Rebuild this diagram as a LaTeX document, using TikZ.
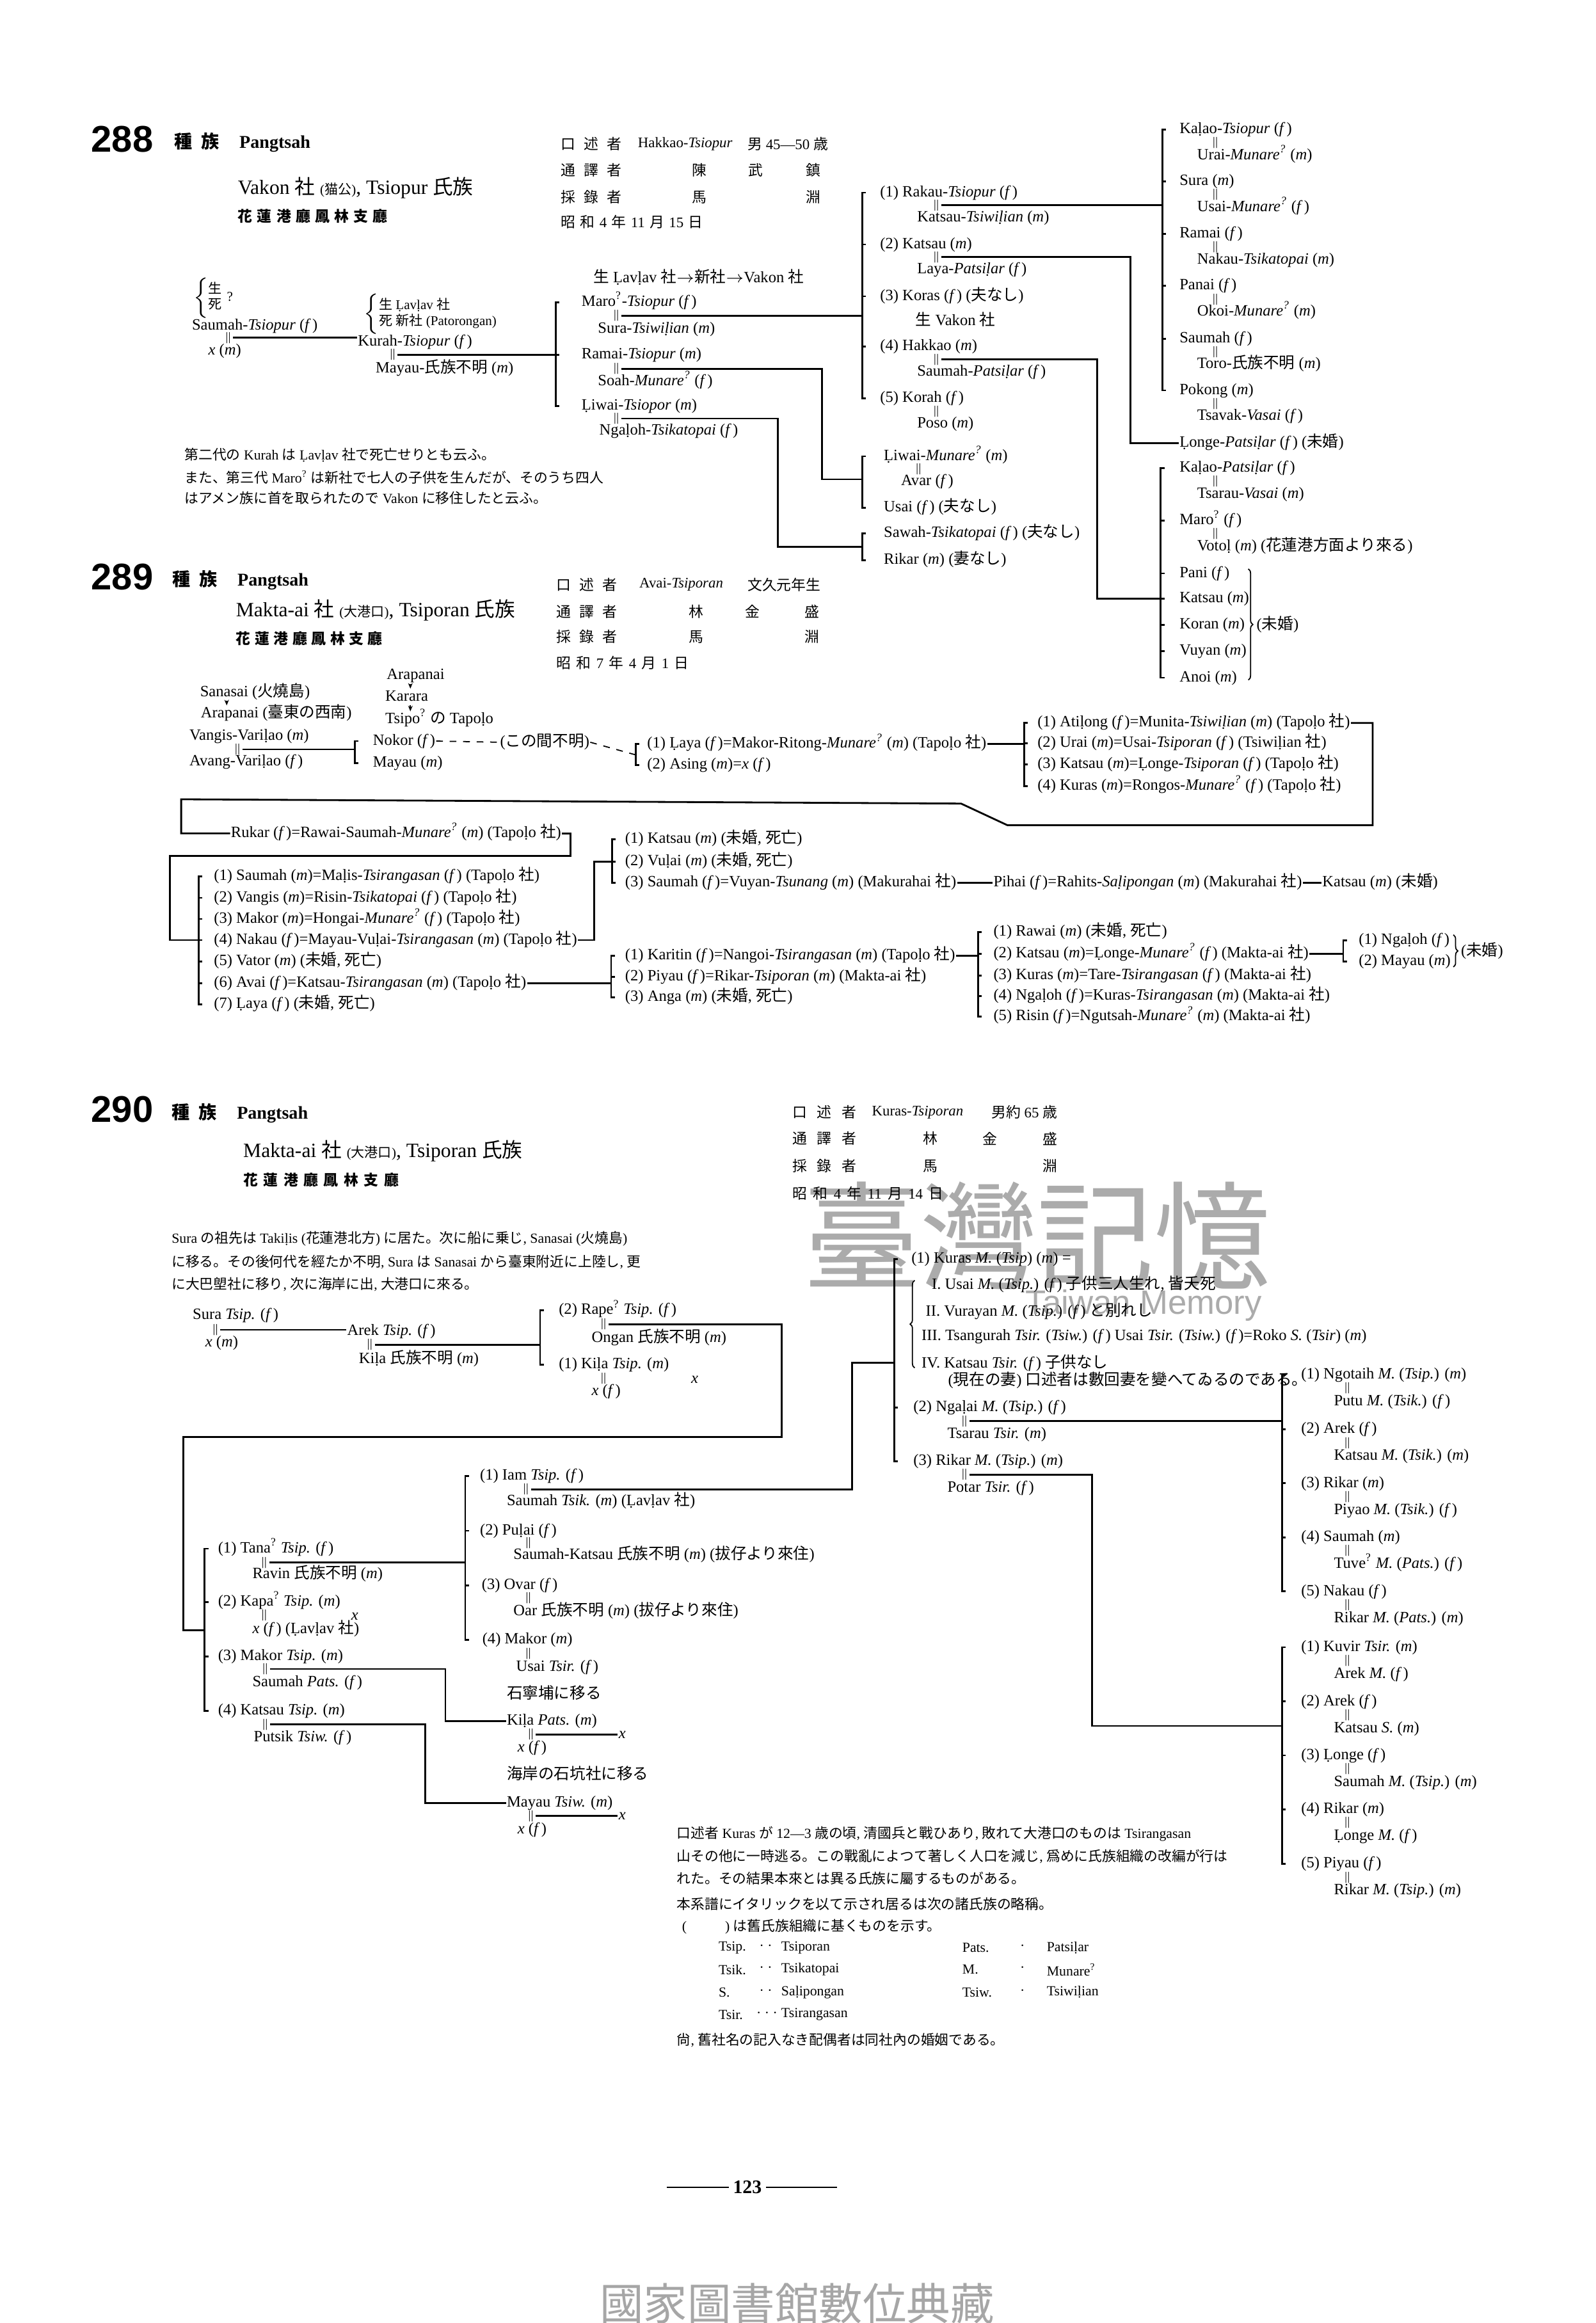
\documentclass[tikz,border=0pt]{standalone}
\usepackage{fontspec}
\setmainfont{Liberation Serif}
\setsansfont{Liberation Sans}
\newfontfamily\cjkfont{Noto Sans CJK JP}
\usetikzlibrary{arrows.meta,calc,decorations.pathreplacing}

%% kanji and kana switch to the CJK family by themselves
\XeTeXinterchartokenstate=1
\newXeTeXintercharclass\cjkclass
\newcount\cjkcode
\newcommand\setcjkrange[2]{%
  \cjkcode=#1\relax
  \loop
    \XeTeXcharclass\cjkcode=\cjkclass
  \ifnum\cjkcode<#2\relax
    \advance\cjkcode by 1
  \repeat}
\setcjkrange{"3000}{"30FF}
\setcjkrange{"4E00}{"9FFF}
\setcjkrange{"FF00}{"FFEF}
\XeTeXinterchartoks 0 \cjkclass = {\cjkfont}
\XeTeXinterchartoks 4095 \cjkclass = {\cjkfont}
\XeTeXinterchartoks \cjkclass 0 = {\rmfamily}
\XeTeXinterchartoks \cjkclass 4095 = {\rmfamily}

\newcommand\Fem{(\textit{f}\kern0.6pt)}
\newcommand\Mal{(\textit{m})}
\newcommand\gs{\textsuperscript{?}}
\newcommand\lh{l\char"0323\relax}
\newcommand\Lh{L\char"0323\relax}
%% bracket: x, top, bottom, inner ticks
\newcommand\brk[4]{%
  \draw (#1+2.5,#2) -- (#1,#2) -- (#1,#3) -- (#1+2.5,#3);
  \foreach \tk in {#4} \draw (#1,\tk) -- ++(2.5,0);}

\tikzset{
  nm/.style={anchor=west, inner sep=0pt, text height=5pt, text depth=1.5pt, font=\fontsize{7}{8}\selectfont},
  nb/.style={anchor=west, inner sep=0pt, font=\fontsize{6}{6.8}\selectfont},
  mk/.style={inner sep=0pt, font=\fontsize{5}{5}\selectfont},
  nt/.style={anchor=west, inner sep=0pt, font=\fontsize{6.2}{7}\selectfont},
  inf/.style={anchor=west, inner sep=0pt, font=\fontsize{6.5}{7}\selectfont},
  num/.style={anchor=west, inner sep=0pt, font=\fontsize{16.5}{17}\selectfont\sffamily\bfseries},
  hd/.style={anchor=west, inner sep=0pt, font=\fontsize{8}{9}\selectfont\bfseries},
  ttl/.style={anchor=west, inner sep=0pt, font=\fontsize{9}{10}\selectfont},
  sb/.style={anchor=west, inner sep=0pt, font=\fontsize{6.5}{7}\selectfont\bfseries},
  arr/.style={-{Stealth[length=2.5pt,width=2pt]}, line width=0.5pt},
  dsh/.style={dashed, line width=0.5pt},
  brc/.style={decorate, decoration={brace, amplitude=2pt}, line width=0.5pt},
}

\begin{document}
\begin{tikzpicture}[x=0.2315mm, y=-0.2315mm, line width=0.8pt]
  \useasboundingbox (0,0) rectangle (1077,1568);

  %% watermark, behind the text
  \node[font=\fontsize{52}{52}\selectfont, text=black!33, inner sep=0pt] (wm1) at (700,834) {臺灣記憶};
  \node[font=\fontsize{15}{15}\selectfont\sffamily, text=black!33, inner sep=0pt] (wm2) at (772,881) {Taiwan Memory};

  %% ================= 288 =================
  \node[num] (n288) at (61,94) {288};
  \node[hd] (h288) at (117,96) {種\hspace{4pt}族\hspace{9pt}Pangtsah};
  \node[ttl] (t288) at (160,127) {Vakon 社 {\fontsize{6}{6}\selectfont (猫公)}, Tsiopur 氏族};
  \node[sb] (s288) at (160,146) {\makebox[23.4mm][s]{花 蓮 港 廳 鳳 林 支 廳}};

  \node[inf] (a288) at (378,97) {\makebox[9.5mm][s]{口 述 者}};
  \node[inf] (a288n) at (430,97) {Hakkao-\textit{Tsiopur}};
  \node[inf] (a288a) at (504,97) {男 45—50 歳};
  \node[inf] (b288) at (378,115) {\makebox[9.5mm][s]{通 譯 者}};
  \node[inf,anchor=center] (b288x) at (472,115) {陳};
  \node[inf,anchor=center] (b288y) at (510,115) {武};
  \node[inf,anchor=center] (b288z) at (549,115) {鎮};
  \node[inf] (c288) at (378,133) {\makebox[9.5mm][s]{採 錄 者}};
  \node[inf,anchor=center] (c288x) at (472,133) {馬};
  \node[inf,anchor=center] (c288z) at (549,133) {淵};
  \node[inf] (d288) at (378,150) {\makebox[22.2mm][s]{昭 和 4 年 11 月 15 日}};

  \node[nb] (bd1) at (130,201) {$\left\{\begin{tabular}{@{}l@{}}生\\死\end{tabular}\right.$\,?};
  \node[nb] (bd2) at (245,212) {$\left\{\begin{tabular}{@{}l@{}}生 \Lh av\lh av 社\\死 新社 (Patorongan)\end{tabular}\right.$};
  \node[nm] (sm1) at (129,220) {Saumah-\textit{Tsiopur} \Fem};
  \node[mk] (q1) at (154,228) {$\|$};
  \node[nm] (x1) at (140,237) {\textit{x} \Mal};
  \node[nm] (ku) at (241,231) {Kurah-\textit{Tsiopur} \Fem};
  \node[mk] (q2) at (265,239.5) {$\|$};
  \node[nm] (my1) at (253,249) {Mayau-氏族不明 \Mal};
  \draw (q1.east) -- (ku.west |- q1.east);
  \coordinate (br1) at (375,239.5);
  \draw (q2.east) -- (br1);
  \brk{375}{204}{274}{239.5}

  \node[nm] (lv) at (400,188) {生 \Lh av\lh av 社$\to$新社$\to$Vakon 社};
  \node[nm] (mr) at (392,204) {Maro\gs-\textit{Tsiopur} \Fem};
  \node[mk] (q3) at (416,213) {$\|$};
  \node[nm] (sw) at (403,222) {Sura-\textit{Tsiwi\lh ian} \Mal};
  \node[nm] (rm) at (392,239.5) {Ramai-\textit{Tsiopur} \Mal};
  \node[mk] (q4) at (416,249) {$\|$};
  \node[nm] (so) at (403,257.5) {Soah-\textit{Munare\gs} \Fem};
  \node[nm] (lw) at (392,274) {\Lh iwai-\textit{Tsiopor} \Mal};
  \node[mk] (q5) at (416,282.5) {$\|$};
  \node[nm] (ng) at (404,291) {Nga\lh oh-\textit{Tsikatopai} \Fem};
  \coordinate (br2) at (582,213);
  \coordinate (br5) at (582,323.5);
  \coordinate (br6) at (582,369.2);
  \draw (q3.east) -- (br2);
  \draw (q4.east) -| (555,323.5) -- (br5);
  \draw (q5.east) -| (525,369.2) -- (br6);

  \brk{582}{130}{269}{165,200,234}
  \foreach \yy/\pa/\pb [count=\idx] in {
    130/{(1) Rakau-\textit{Tsiopur} \Fem}/{Katsau-\textit{Tsiwi\lh ian} \Mal},
    165/{(2) Katsau \Mal}/{Laya-\textit{Patsi\lh ar} \Fem},
    234/{(4) Hakkao \Mal}/{Saumah-\textit{Patsi\lh ar} \Fem},
    269/{(5) Korah \Fem}/{Poso \Mal}}{
    \node[nm] (d\idx) at (593.5,\yy) {\pa};
    \node[mk] (dq\idx) at (632,\yy+8.6) {$\|$};
    \node[nm] (ds\idx) at (618.5,\yy+17) {\pb};
  }
  \node[nm] (ko) at (593.5,200) {(3) Koras \Fem\ (夫なし)};
  \node[nm] (vk) at (617.5,217) {生 Vakon 社};

  \brk{784.5}{87.4}{263.5}{122.4,157.9,193,228.6}
  \foreach \yy/\pa/\pb [count=\idx] in {
    87.4/{Ka\lh ao-\textit{Tsiopur} \Fem}/{Urai-\textit{Munare\gs} \Mal},
    122.4/{Sura \Mal}/{Usai-\textit{Munare\gs} \Fem},
    157.9/{Ramai \Fem}/{Nakau-\textit{Tsikatopai} \Mal},
    193/{Panai \Fem}/{Okoi-\textit{Munare\gs} \Mal},
    228.6/{Saumah \Fem}/{Toro-氏族不明 \Mal},
    263.5/{Pokong \Mal}/{Tsavak-\textit{Vasai} \Fem}}{
    \node[nm] (c\idx) at (795.6,\yy) {\pa};
    \node[mk] (cq\idx) at (820.3,\yy+9) {$\|$};
    \node[nm] (cs\idx) at (807.5,\yy+17.5) {\pb};
  }
  \node[nm] (lg) at (795.6,299) {\Lh onge-\textit{Patsi\lh ar} \Fem\ (未婚)};
  \coordinate (br3) at (784.5,138.6);
  \coordinate (br4) at (783.5,404);
  \draw (dq1.east) -- (br3);
  \draw (dq2.east) -| (763,299) -- (lg.west);
  \draw (dq3.east) -| (740.7,404) -- (br4);

  \brk{783.5}{316}{457.4}{351.5,387,404,421.7,439.6}
  \node[nm] (kp1) at (795.6,316) {Ka\lh ao-\textit{Patsi\lh ar} \Fem};
  \node[mk] (kq1) at (820.3,325) {$\|$};
  \node[nm] (ts1) at (807.5,333.7) {Tsarau-\textit{Vasai} \Mal};
  \node[nm] (mo1) at (795.6,351.5) {Maro\gs\ \Fem};
  \node[mk] (mq1) at (820.3,360.5) {$\|$};
  \node[nm] (vt1) at (807.5,369.2) {Voto\lh\ \Mal\ (花蓮港方面より來る)};
  \foreach \yy/\pa [count=\idx] in {387/{Pani \Fem}, 404/{Katsau \Mal}, 421.7/{Koran \Mal}, 439.6/{Vuyan \Mal}, 457.4/{Anoi \Mal}}
    \node[nm] (un\idx) at (795.6,\yy) {\pa};
  \draw[brc] (842.6,384) -- (842.6,459);
  \node[nm] (un6) at (847.6,422) {(未婚)};

  \brk{582}{308}{342.6}{308}
  \node[nm] (lm) at (596,308) {\Lh iwai-\textit{Munare\gs} \Mal};
  \node[mk] (lq) at (620,316.5) {$\|$};
  \node[nm] (avr) at (607.6,325) {Avar \Fem};
  \node[nm] (usi) at (596,342.6) {Usai \Fem\ (夫なし)};
  \brk{582}{360}{378}{360}
  \node[nm] (swh) at (596,360) {Sawah-\textit{Tsikatopai} \Fem\ (夫なし)};
  \node[nm] (rkr) at (596,378) {Rikar \Mal\ (妻なし)};

  \node[nt] (r1) at (124,307) {第二代の Kurah は \Lh av\lh av 社で死亡せりとも云ふ。};
  \node[nt] (r2) at (124,322) {また、第三代 Maro\gs\ は新社で七人の子供を生んだが、そのうち四人};
  \node[nt] (r3) at (124,336) {はアメン族に首を取られたので Vakon に移住したと云ふ。};

  %% ================= 289 =================
  \node[num] (n289) at (61,389.5) {289};
  \node[hd] (h289) at (115.7,391.6) {種\hspace{4pt}族\hspace{9pt}Pangtsah};
  \node[ttl] (t289) at (158.7,411.7) {Makta-ai 社 {\fontsize{6}{6}\selectfont (大港口)}, Tsiporan 氏族};
  \node[sb] (s289) at (158.7,430.8) {\makebox[22.9mm][s]{花 蓮 港 廳 鳳 林 支 廳}};

  \node[inf] (a289) at (375,394.6) {\makebox[9.5mm][s]{口 述 者}};
  \node[inf] (a289n) at (431,394.6) {Avai-\textit{Tsiporan}};
  \node[inf] (a289a) at (504,394.6) {文久元年生};
  \node[inf] (b289) at (375,412.7) {\makebox[9.5mm][s]{通 譯 者}};
  \node[inf,anchor=center] (b289x) at (470,412.7) {林};
  \node[inf,anchor=center] (b289y) at (508,412.7) {金};
  \node[inf,anchor=center] (b289z) at (548,412.7) {盛};
  \node[inf] (c289) at (375,429.8) {\makebox[9.5mm][s]{採 錄 者}};
  \node[inf,anchor=center] (c289x) at (470,429.8) {馬};
  \node[inf,anchor=center] (c289z) at (548,429.8) {淵};
  \node[inf] (d289) at (375,447.5) {\makebox[20.7mm][s]{昭 和 7 年 4 月 1 日}};

  \node[nm] (ap1) at (260.5,456) {Arapanai};
  \node[nm] (kr) at (259.5,470.4) {Karara};
  \node[nm] (tp) at (259.5,485.7) {Tsipo\gs\ の Tapo\lh o};
  \draw[arr] (277,0 |- ap1.south) -- (277,0 |- kr.north);
  \draw[arr] (277,0 |- kr.south) -- (277,0 |- tp.north);
  \node[nm] (sn) at (134.5,467.4) {Sanasai (火燒島)};
  \node[nm] (ap2) at (135,481.7) {Arapanai (臺東の西南)};
  \draw[arr] (153,0 |- sn.south) -- (153,0 |- ap2.north);

  \node[nm] (vg) at (127.3,497) {Vangis-Vari\lh ao \Mal};
  \node[mk] (qv) at (160.3,505.8) {$\|$};
  \node[nm] (avg) at (127.3,514.3) {Avang-Vari\lh ao \Fem};
  \coordinate (bv) at (239.6,505.8);
  \draw (qv.east) -- (bv);
  \brk{239.6}{500.2}{515}{500.2}
  \node[nm] (nk) at (251.2,500.2) {Nokor \Fem};
  \node[nm] (my2) at (251.2,515) {Mayau \Mal};
  \node[nm] (ck) at (337,501) {(この間不明)};
  \coordinate (bl) at (429,509.5);
  \draw[dsh] (nk.east) -- (ck.west);
  \draw[dsh] (ck.east) -- (bl);
  \brk{429}{502.2}{516.3}{502.2}
  \node[nm] (ly) at (436.3,502.2) {(1) \Lh aya \Fem=Makor-Ritong-\textit{Munare\gs} \Mal\ (Tapo\lh o 社)};
  \node[nm] (as) at (436.3,516.3) {(2) Asing \Mal=\textit{x} \Fem};
  \coordinate (ba) at (691.4,502.2);
  \draw (ly.east) -- (ba);
  \brk{691.4}{488}{530.5}{501.6,516}
  \foreach \yy/\pa [count=\idx] in {
    488/{(1) Ati\lh ong \Fem=Munita-\textit{Tsiwi\lh ian} \Mal\ (Tapo\lh o 社)},
    501.6/{(2) Urai \Mal=Usai-\textit{Tsiporan} \Fem\ (Tsiwi\lh ian 社)},
    516/{(3) Katsau \Mal=\Lh onge-\textit{Tsiporan} \Fem\ (Tapo\lh o 社)},
    530.5/{(4) Kuras \Mal=Rongos-\textit{Munare\gs} \Fem\ (Tapo\lh o 社)}}
    \node[nm] (e\idx) at (699.7,\yy) {\pa};

  \node[nm] (rk) at (155.3,562.5) {Rukar \Fem=Rawai-Saumah-\textit{Munare\gs} \Mal\ (Tapo\lh o 社)};
  \draw (e1.east) -- (926.5,488) -- (926.5,557) -- (680,557) -- (648.7,542.4) -- (122.3,539.5) |- (rk.west);
  \coordinate (bh) at (134,634.5);
  \draw (rk.east) -- (385,562.5) -- (385,577.6) -- (114.7,577.6) |- (bh);

  \brk{134}{591.7}{677.8}{606,620.3,634.5,649,663.7}
  \foreach \yy/\pa [count=\idx] in {
    591.7/{(1) Saumah \Mal=Ma\lh is-\textit{Tsirangasan} \Fem\ (Tapo\lh o 社)},
    606/{(2) Vangis \Mal=Risin-\textit{Tsikatopai} \Fem\ (Tapo\lh o 社)},
    620.3/{(3) Makor \Mal=Hongai-\textit{Munare\gs} \Fem\ (Tapo\lh o 社)},
    634.5/{(4) Nakau \Fem=Mayau-Vu\lh ai-\textit{Tsirangasan} \Mal\ (Tapo\lh o 社)},
    649/{(5) Vator \Mal\ (未婚, 死亡)},
    663.7/{(6) Avai \Fem=Katsau-\textit{Tsirangasan} \Mal\ (Tapo\lh o 社)},
    677.8/{(7) \Lh aya \Fem\ (未婚, 死亡)}}
    \node[nm] (h\idx) at (143.8,\yy) {\pa};

  \brk{413}{566.6}{595.7}{581.6}
  \node[nm] (v1) at (421.4,566.6) {(1) Katsau \Mal\ (未婚, 死亡)};
  \node[nm] (v2) at (421.4,581.6) {(2) Vu\lh ai \Mal\ (未婚, 死亡)};
  \node[nm] (v3) at (421.4,595.7) {(3) Saumah \Fem=Vuyan-\textit{Tsunang} \Mal\ (Makurahai 社)};
  \coordinate (bvu) at (413,581.6);
  \draw (h4.east) -| (401,581.6) -- (bvu);
  \node[nm] (ph) at (670,595.7) {Pihai \Fem=Rahits-\textit{Sa\lh ipongan} \Mal\ (Makurahai 社)};
  \node[nm] (kt) at (892,595.7) {Katsau \Mal\ (未婚)};
  \draw (v3.east) -- (ph.west);
  \draw (ph.east) -- (kt.west);

  \brk{412.5}{645}{673.2}{659.5}
  \node[nm] (w1) at (421.4,645) {(1) Karitin \Fem=Nangoi-\textit{Tsirangasan} \Mal\ (Tapo\lh o 社)};
  \node[nm] (w2) at (421.4,659.5) {(2) Piyau \Fem=Rikar-\textit{Tsiporan} \Mal\ (Makta-ai 社)};
  \node[nm] (w3) at (421.4,673.2) {(3) Anga \Mal\ (未婚, 死亡)};
  \coordinate (bw) at (412.5,663.7);
  \draw (h6.east) -- (bw);

  \brk{660.2}{629}{686.3}{643.8,658.4,672.4}
  \coordinate (bk) at (660.2,645);
  \draw (w1.east) -- (bk);
  \foreach \yy/\pa [count=\idx] in {
    629/{(1) Rawai \Mal\ (未婚, 死亡)},
    643.8/{(2) Katsau \Mal=\Lh onge-\textit{Munare\gs} \Fem\ (Makta-ai 社)},
    658.4/{(3) Kuras \Mal=Tare-\textit{Tsirangasan} \Fem\ (Makta-ai 社)},
    672.4/{(4) Nga\lh oh \Fem=Kuras-\textit{Tsirangasan} \Mal\ (Makta-ai 社)},
    686.3/{(5) Risin \Fem=Ngutsah-\textit{Munare\gs} \Mal\ (Makta-ai 社)}}
    \node[nm] (u\idx) at (670,\yy) {\pa};
  \coordinate (bn) at (906.7,643.8);
  \draw (u2.east) -- (bn);
  \brk{906.7}{634.8}{649}{634.8}
  \node[nm] (z1) at (916.6,634.8) {(1) Nga\lh oh \Fem};
  \node[nm] (z2) at (916.6,649) {(2) Mayau \Mal};
  \draw[brc] (981,631) -- (981,652.7);
  \node[nm] (z3) at (985.6,642.6) {(未婚)};

  %% ================= 290 =================
  \node[num] (n290) at (61,749) {290};
  \node[hd] (h290) at (115.3,751.4) {種\hspace{4pt}族\hspace{9pt}Pangtsah};
  \node[ttl] (t290) at (163.6,777) {Makta-ai 社 {\fontsize{6}{6}\selectfont (大港口)}, Tsiporan 氏族};
  \node[sb] (s290) at (163.6,796.3) {\makebox[24.3mm][s]{花 蓮 港 廳 鳳 林 支 廳}};

  \node[inf] (a290) at (534.3,750.7) {\makebox[10mm][s]{口 述 者}};
  \node[inf] (a290n) at (588,750.7) {Kuras-\textit{Tsiporan}};
  \node[inf] (a290a) at (668.6,750.7) {男約 65 歳};
  \node[inf] (b290) at (534.3,768.5) {\makebox[10mm][s]{通 譯 者}};
  \node[inf,anchor=center] (b290x) at (628,768.5) {林};
  \node[inf,anchor=center] (b290y) at (668,768.5) {金};
  \node[inf,anchor=center] (b290z) at (709,768.5) {盛};
  \node[inf] (c290) at (534.3,787) {\makebox[10mm][s]{採 錄 者}};
  \node[inf,anchor=center] (c290x) at (628,787) {馬};
  \node[inf,anchor=center] (c290z) at (709,787) {淵};
  \node[inf] (d290) at (534.3,805.6) {\makebox[23.6mm][s]{昭 和 4 年 11 月 14 日}};

  \node[nt] (o1) at (115.3,836.2) {Sura の祖先は Taki\lh is (花蓮港北方) に居た。次に船に乗じ, Sanasai (火燒島)};
  \node[nt] (o2) at (115.3,852) {に移る。その後何代を經たか不明, Sura は Sanasai から臺東附近に上陸し, 更};
  \node[nt] (o3) at (115.3,867) {に大巴塱社に移り, 次に海岸に出, 大港口に來る。};

  \node[nm] (su) at (129.5,888) {Sura \textit{Tsip.} \Fem};
  \node[mk] (qs) at (145.4,897.6) {$\|$};
  \node[nm] (sx) at (138,906.5) {\textit{x} \Mal};
  \node[nm] (ar) at (233.8,898.4) {Arek \textit{Tsip.} \Fem};
  \node[mk] (qa) at (249.6,907.7) {$\|$};
  \node[nm] (kl) at (241.7,917.4) {Ki\lh a 氏族不明 \Mal};
  \draw (qs.east) -- (ar.west |- qs.east);
  \coordinate (bra) at (364.6,907.7);
  \draw (qa.east) -- (bra);
  \brk{364.6}{884.4}{921}{884.4}
  \node[nm] (rp) at (376.6,884.4) {(2) Rape\gs\ \textit{Tsip.} \Fem};
  \node[mk] (qr) at (407.4,893.8) {$\|$};
  \node[nm] (og) at (398.8,903.2) {Ongan 氏族不明 \Mal};
  \node[nm] (kt1) at (376.6,921) {(1) Ki\lh a \textit{Tsip.} \Mal};
  \node[mk] (qk1) at (407.4,930.4) {$\|$};
  \node[nm] (kx) at (398.8,939.4) {\textit{x} \Fem};
  \node[nm] (kx2) at (466,931) {\textit{x}};
  \coordinate (bt) at (138.1,1100.3);
  \draw (qr.east) -- (527.8,893.8) -- (527.8,969.8) -- (123.8,969.8) |- (bt);

  \brk{138.1}{1045.3}{1154.8}{1081.3,1118}
  \node[nm] (tn) at (146.6,1045.3) {(1) Tana\gs\ \textit{Tsip.} \Fem};
  \node[mk] (qt) at (178.3,1054.7) {$\|$};
  \node[nm] (rv) at (169.8,1062.8) {Ravin 氏族不明 \Mal};
  \node[nm] (kp2) at (146.6,1081.3) {(2) Kapa\gs\ \textit{Tsip.} \Mal};
  \node[mk] (qkp) at (178.3,1090.5) {$\|$};
  \node[nm] (kpx) at (236.5,1090.7) {\textit{x}};
  \node[nm] (kpf) at (169.8,1099.8) {\textit{x} \Fem\ (\Lh av\lh av 社)};
  \node[nm] (mk3) at (146.6,1118) {(3) Makor \textit{Tsip.} \Mal};
  \node[mk] (qm3) at (179,1126.5) {$\|$};
  \node[nm] (sp3) at (169.8,1135.8) {Saumah \textit{Pats.} \Fem};
  \node[nm] (ks4) at (146.6,1154.8) {(4) Katsau \textit{Tsip.} \Mal};
  \node[mk] (qk4) at (179,1164) {$\|$};
  \node[nm] (pt4) at (170.7,1173) {Putsik \textit{Tsiw.} \Fem};
  \coordinate (bi) at (314,1054.7);
  \draw (qt.east) -- (bi);

  \brk{314}{996.4}{1106.7}{1033.2,1070}
  \node[nm] (im) at (323.4,996.4) {(1) Iam \textit{Tsip.} \Fem};
  \node[mk] (qi) at (355,1005.3) {$\|$};
  \node[nm] (st) at (341.5,1013.7) {Saumah \textit{Tsik.} \Mal\ (\Lh av\lh av 社)};
  \node[nm] (pl) at (323.4,1033.2) {(2) Pu\lh ai \Fem};
  \node[mk] (qp) at (356.6,1041.4) {$\|$};
  \node[nm] (sk) at (346,1049.7) {Saumah-Katsau 氏族不明 \Mal\ (拔仔より來住)};
  \node[nm] (ov) at (324.6,1070) {(3) Ovar \Fem};
  \node[mk] (qo) at (356.6,1078.8) {$\|$};
  \node[nm] (oa) at (346,1087.7) {Oar 氏族不明 \Mal\ (拔仔より來住)};
  \node[nm] (mk4) at (325,1106.7) {(4) Makor \Mal};
  \node[mk] (qm4) at (356.6,1116) {$\|$};
  \node[nm] (us4) at (347.8,1125.2) {Usai \textit{Tsir.} \Fem};
  \node[nm] (mv1) at (341.5,1144) {石寧埔に移る};
  \node[nm] (kp) at (341.5,1161.7) {Ki\lh a \textit{Pats.} \Mal};
  \node[mk] (qkp2) at (358.3,1170.8) {$\|$};
  \node[nm] (xk) at (417,1170.8) {\textit{x}};
  \node[nm] (kpx2) at (348.8,1180) {\textit{x} \Fem};
  \node[nm] (mv2) at (341.5,1198.4) {海岸の石坑社に移る};
  \node[nm] (mt) at (341.5,1216.9) {Mayau \textit{Tsiw.} \Mal};
  \node[mk] (qmt) at (358.3,1225.8) {$\|$};
  \node[nm] (xm) at (417,1225.8) {\textit{x}};
  \node[nm] (mtx) at (348.8,1235) {\textit{x} \Fem};
  \draw (qm3.east) -| (300.6,1161.7) -- (kp.west);
  \draw (qk4.east) -| (287,1216.9) -- (mt.west);
  \draw (qkp2.east) -- (xk.west);
  \draw (qmt.east) -- (xm.west);
  \coordinate (bk1) at (603.6,919.7);
  \draw (qi.east) -| (575.3,919.7) -- (bk1);

  \brk{603.6}{850}{986.4}{950}
  \node[nm] (kr1) at (614.6,850) {(1) Kuras \textit{M.} (\textit{Tsip}) \Mal\ =};
  \draw[brc] (617.4,923.3) -- (617.4,864.2);
  \node[nm] (ro1) at (628.4,867.3) {I. Usai \textit{M.} (\textit{Tsip.}) \Fem\ 子供三人生れ, 皆夭死};
  \node[nm] (ro2) at (624.3,885.5) {II. Vurayan \textit{M.} (\textit{Tsip.}) \Fem\ と別れし};
  \node[nm] (ro3) at (621.5,902.1) {III. Tsangurah \textit{Tsir.} (\textit{Tsiw.}) \Fem\ Usai \textit{Tsir.} (\textit{Tsiw.}) \Fem=Roko \textit{S.} (\textit{Tsir}) \Mal};
  \node[nm] (ro4) at (621.5,920.5) {IV. Katsau \textit{Tsir.} \Fem\ 子供なし};
  \node[nm] (ro5) at (639.4,932.5) {(現在の妻) 口述者は數回妻を變へてゐるのである。};
  \node[nm] (ngl) at (616,950) {(2) Nga\lh ai \textit{M.} (\textit{Tsip.}) \Fem};
  \node[mk] (qng) at (651,959.3) {$\|$};
  \node[nm] (tsr) at (638.9,968.2) {Tsarau \textit{Tsir.} \Mal};
  \node[nm] (rk3) at (616,986.4) {(3) Rikar \textit{M.} (\textit{Tsip.}) \Mal};
  \node[mk] (qrk) at (651,995.4) {$\|$};
  \node[nm] (ptr) at (638.9,1004.5) {Potar \textit{Tsir.} \Fem};
  \coordinate (bg1) at (865.3,959.3);
  \coordinate (bg2) at (865.3,1165);
  \draw (qng.east) -- (bg1);
  \draw (qrk.east) -| (737.2,1165) -- (bg2);

  \brk{865.3}{927.9}{1074.2}{964.8,1001.2,1037.6}
  \brk{865.3}{1111.8}{1258.1}{1148.5,1184.8,1221.2}
  \foreach \yy/\pa/\pb [count=\idx] in {
    927.9/{(1) Ngotaih \textit{M.} (\textit{Tsip.}) \Mal}/{Putu \textit{M.} (\textit{Tsik.}) \Fem},
    964.8/{(2) Arek \Fem}/{Katsau \textit{M.} (\textit{Tsik.}) \Mal},
    1001.2/{(3) Rikar \Mal}/{Piyao \textit{M.} (\textit{Tsik.}) \Fem},
    1037.6/{(4) Saumah \Mal}/{Tuve\gs\ \textit{M.} (\textit{Pats.}) \Fem},
    1074.2/{(5) Nakau \Fem}/{Rikar \textit{M.} (\textit{Pats.}) \Mal},
    1111.8/{(1) Kuvir \textit{Tsir.} \Mal}/{Arek \textit{M.} \Fem},
    1148.5/{(2) Arek \Fem}/{Katsau \textit{S.} \Mal},
    1184.8/{(3) \Lh onge \Fem}/{Saumah \textit{M.} (\textit{Tsip.}) \Mal},
    1221.2/{(4) Rikar \Mal}/{\Lh onge \textit{M.} \Fem},
    1258.1/{(5) Piyau \Fem}/{Rikar \textit{M.} (\textit{Tsip.}) \Mal}}{
    \node[nm] (g\idx) at (877.7,\yy) {\pa};
    \node[mk] (gq\idx) at (909.4,\yy+9.1) {$\|$};
    \node[nm] (gs\idx) at (899.8,\yy+18.2) {\pb};
  }

  %% notes under 290
  \node[nt] (f1) at (456.3,1238) {口述者 Kuras が 12—3 歳の頃, 清國兵と戰ひあり, 敗れて大港口のものは Tsirangasan};
  \node[nt] (f2) at (456.3,1253) {山その他に一時逃る。この戰亂によつて著しく人口を減じ, 爲めに氏族組織の改編が行は};
  \node[nt] (f3) at (456.3,1268) {れた。その結果本來とは異る氏族に屬するものがある。};
  \node[nt] (f4) at (456.3,1285.3) {本系譜にイタリックを以て示され居るは次の諸氏族の略稱。};
  \node[nt] (f5) at (459.8,1300.3) {(\hspace{6mm}) は舊氏族組織に基くものを示す。};
  \foreach \yy/\ka/\na/\kb/\nb [count=\idx] in {
    1314.6/Tsip./Tsiporan/Pats./Patsi\lh ar,
    1329.4/Tsik./Tsikatopai/M./Munare\gs,
    1344.7/S./Sa\lh ipongan/Tsiw./Tsiwi\lh ian}{
    \node[nt] (ka\idx) at (484.5,\yy) {\ka};
    \node[nt] (kd\idx) at (512,\yy) {· ·};
    \node[nt] (kn\idx) at (526.8,\yy) {\na};
    \node[nt] (kb\idx) at (649,\yy) {\kb};
    \node[nt] (ke\idx) at (688,\yy) {·};
    \node[nt] (km\idx) at (706,\yy) {\nb};
  }
  \node[nt] (ka4) at (484.5,1359.8) {Tsir.};
  \node[nt] (kd4) at (510,1359.8) {· · ·};
  \node[nt] (kn4) at (526.8,1359.8) {Tsirangasan};
  \node[nt] (f6) at (456.3,1377) {尙, 舊社名の記入なき配偶者は同社內の婚姻である。};

  %% page foot
  \node[font=\fontsize{8.5}{9}\selectfont\bfseries, inner sep=0pt] (pg) at (504.5,1476.5) {123};
  \coordinate (pgl) at (450,1476.5);
  \coordinate (pgr) at (565,1476.5);
  \draw[line width=0.6pt] (pgl) -- ([xshift=-1.5pt]pg.west);
  \draw[line width=0.6pt] ([xshift=1.5pt]pg.east) -- (pgr);
  \node[font=\fontsize{19.5}{20}\selectfont, text=black!35, inner sep=0pt] (lib) at (538,1555) {國家圖書館數位典藏};
\end{tikzpicture}
\end{document}
